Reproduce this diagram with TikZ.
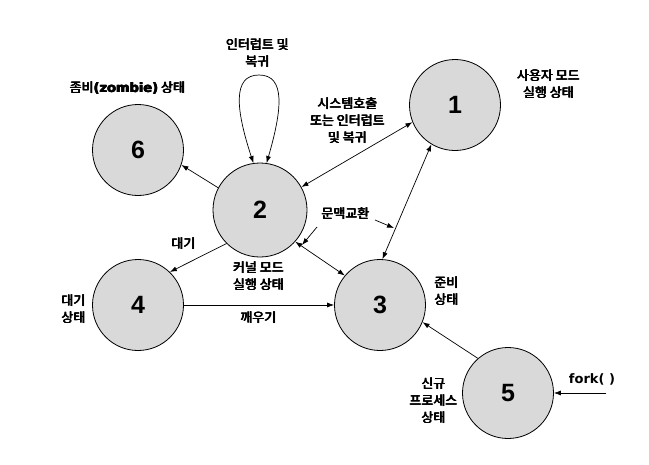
\documentclass[tikz,border=0pt]{standalone}
\usepackage{fontspec}
\setmainfont{Noto Sans CJK KR}
\newfontfamily\kfont{Noto Sans CJK KR}
\newfontfamily\lbold{DejaVu Sans}
\newfontfamily\numfont{Liberation Sans}
\usetikzlibrary{arrows.meta,calc}
\definecolor{stategray}{RGB}{217,217,217}
\tikzset{
  state/.style={circle,draw=black,line width=0.8pt,fill=stategray,minimum size=91pt,inner sep=0pt,font=\fontsize{25}{25}\numfont\bfseries},
  lbl/.style={align=center,font=\fontsize{13}{17}\kfont,inner sep=0pt},
  arr/.style={line width=0.7pt,-{Latex[length=7pt,width=5pt]}},
  darr/.style={line width=0.7pt,{Latex[length=7pt,width=5pt]}-{Latex[length=7pt,width=5pt]}},
}
% bold look for the Korean text: the label set several times, the copies nudged
\newcommand\boldlabel[3]{%
  \node[lbl] (#1) at (#2) {#3};
  \node[lbl,xshift=0.45pt] (#1-b) at (#2) {#3};
  \node[lbl,xshift=0.85pt] (#1-c) at (#2) {#3};
  \node[lbl,xshift=0.4pt,yshift=0.35pt] (#1-d) at (#2) {#3};}
\begin{document}
\begin{tikzpicture}[x=1pt,y=-1pt]
\useasboundingbox (0,0) rectangle (649,464);
\node[state] (s1) at (455,105) {1};
\node[state] (s6) at (138,150) {6};
\node[state,minimum size=94pt] (s2) at (260,210) {2};
\node[state] (s4) at (138,305) {4};
\node[state] (s3) at (380,305) {3};
\node[state] (s5) at (508,393) {5};

\boldlabel{l1}{548,84}{사용자 모드\\실행 상태}
\boldlabel{l6}{127,88}{좀비{\lbold\bfseries(zombie)} 상태}
\boldlabel{lloop}{257,53}{인터럽트 및\\복귀}
\boldlabel{lsys}{347,121}{시스템호출\\또는 인터럽트\\및 복귀}
\boldlabel{lctx}{345,214}{문맥교환}
\boldlabel{lwait}{183,244}{대기}
\boldlabel{lkern}{258,276}{커널 모드\\실행 상태}
\boldlabel{l4}{73,309}{대기\\상태}
\boldlabel{lwake}{258,318}{깨우기}
\boldlabel{l3}{446,291}{준비\\상태}
\boldlabel{l5}{433,401}{신규\\프로세스\\상태}
\node[lbl,font=\fontsize{13}{17}\lbold\bfseries] (lfork) at (592,379) {fork( )};
\coordinate (forkstart) at (606,393);

% self loop on 2
\draw[darr] (s2.98) .. controls (236,110) and (232,75) .. (259,75)
  .. controls (286,75) and (282,110) .. (s2.82);

\draw[arr] (s2.152) -- (s6.-19);
\draw[darr] (s2.29) -- (s1.202);
\draw[darr] (s1.239) -- (s3.87);
\draw[darr] (s2.-42) -- (s3.140);
\draw[arr] (s2.225) -- (s4.46);
\draw[arr] (s4) -- (s3);
\draw[arr] (s5.131) -- (s3.338);
\draw[arr] (forkstart) -- (s5);

% context switch pointers
\coordinate (ctxA) at (317,227);
\coordinate (ctxB) at (302,245);
\coordinate (ctxC) at (375,220);
\coordinate (ctxD) at (394,228);
\draw[arr] (ctxA) -- (ctxB);
\draw[arr] (ctxC) -- (ctxD);
\end{tikzpicture}
\end{document}
